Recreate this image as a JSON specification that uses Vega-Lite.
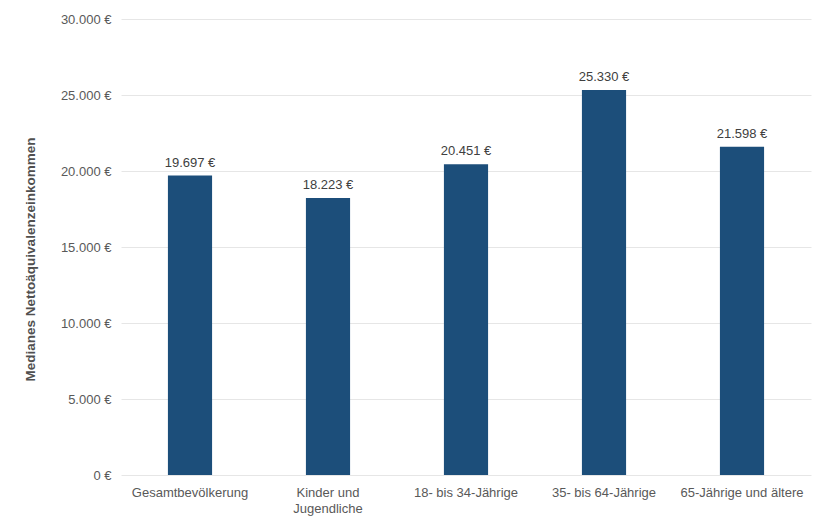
{
  "$schema": "https://vega.github.io/schema/vega-lite/v6.json",
  "autosize": {"type": "none"},
  "padding": {"left": 121, "top": 19, "right": 5, "bottom": 56},
  "width": 690,
  "height": 456,
  "background": "white",
  "config": {
    "locale": {"number": {"decimal": ",", "thousands": ".", "grouping": [3], "currency": ["", " €"]}},
    "view": {"stroke": null},
    "font": "Liberation Sans"
  },
  "data": {"values": [
    {"gruppe": "Gesamtbevölkerung", "wert": 19697},
    {"gruppe": "Kinder und Jugendliche", "wert": 18223},
    {"gruppe": "18- bis 34-Jährige", "wert": 20451},
    {"gruppe": "35- bis 64-Jährige", "wert": 25330},
    {"gruppe": "65-Jährige und ältere", "wert": 21598}
  ]},
  "encoding": {
    "x": {"field": "gruppe", "type": "nominal", "sort": null,
      "scale": {"paddingInner": 0.68, "paddingOuter": 0.34},
      "axis": {"title": null, "labelAngle": 0, "ticks": false, "domain": false,
        "labelFontSize": 13, "labelColor": "#595959", "labelPadding": 11,
        "labelExpr": "datum.value == 'Kinder und Jugendliche' ? ['Kinder und', 'Jugendliche'] : datum.value",
        "labelLineHeight": 16}},
    "y": {"field": "wert", "type": "quantitative",
      "scale": {"domain": [0, 30000]},
      "axis": {"title": "Medianes Nettoäquivalenzeinkommen", "titleFontSize": 13.5, "titleFontWeight": 600,
        "titleColor": "#505050", "titlePadding": 23, "titleY": 240,
        "format": "$,.0f", "values": [0, 5000, 10000, 15000, 20000, 25000, 30000],
        "labelOverlap": false,
        "ticks": false, "domain": false, "labelFontSize": 13, "labelColor": "#595959", "labelPadding": 10,
        "gridColor": "#e6e6e6"}}
  },
  "layer": [
    {"mark": {"type": "bar", "color": "#1c4e7a"}},
    {"mark": {"type": "text", "dy": -6, "baseline": "bottom", "fontSize": 13, "color": "#404040"},
      "encoding": {"text": {"field": "wert", "type": "quantitative", "format": "$,.0f"}}}
  ]
}
